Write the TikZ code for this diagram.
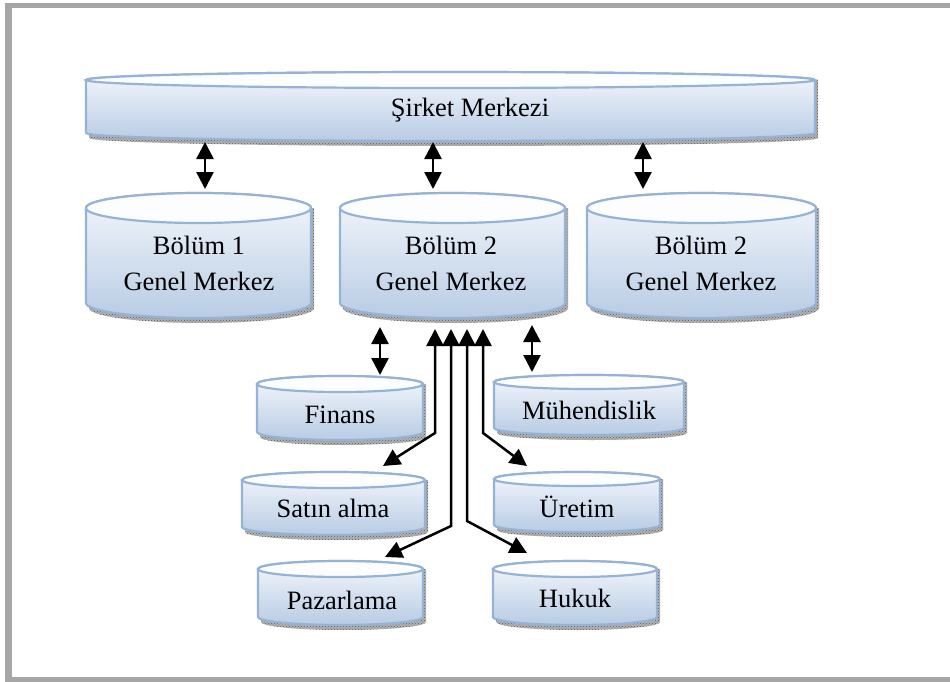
\documentclass[tikz,border=0pt]{standalone}
\usepackage{fontspec}
\setmainfont{Liberation Serif}
\usetikzlibrary{arrows.meta,patterns}

\definecolor{cylline}{RGB}{149,179,215}
\definecolor{cyltop}{RGB}{244,247,252}
\definecolor{cylbot}{RGB}{184,204,228}
\definecolor{lidfill}{RGB}{252,253,255}
\definecolor{framegray}{RGB}{166,166,166}

\tikzset{
  cylbody/.style={draw=cylline, line width=2.2pt, top color=cyltop, bottom color=cylbot, line join=round},
  cyllid/.style={draw=cylline, line width=2.2pt, fill=lidfill},
  cylshadow/.style={preaction={fill=black!30}, pattern=crosshatch dots, pattern color=black!65},
  lbl/.style={font=\fontsize{26.5}{36}\selectfont, align=center, inner sep=0pt},
  link/.style={line width=2.5pt, line join=miter,
    {Triangle[length=17pt,width=17pt]}-{Triangle[length=17pt,width=17pt]}}
}

% #1 name, #2 left x, #3 right x, #4 lid centre y, #5 base centre y,
% #6 ellipse half height, #7/#8 label position, #9 label
\newcommand\cylshape[9]{%
  \pgfmathsetmacro\cylrx{(#3-#2)/2}%
  \pgfmathsetmacro\cylcx{(#3+#2)/2}%
  \fill[cylshadow] (#2+3,#4) -- (#2+3,#5+5)
    arc[start angle=180,end angle=360,x radius=\cylrx pt,y radius=#6pt]
    -- (#3+3,#4) -- cycle;
  \path[cylbody] (#2,#4) -- (#2,#5)
    arc[start angle=180,end angle=360,x radius=\cylrx pt,y radius=#6pt]
    -- (#3,#4)
    arc[start angle=0,end angle=180,x radius=\cylrx pt,y radius=#6pt] -- cycle;
  \draw[cyllid] (\cylcx,#4) ellipse[x radius=\cylrx pt,y radius=#6pt];
  \node[lbl] (#1) at (#7,#8) {#9};
}

\begin{document}
\begin{tikzpicture}[x=1pt,y=-1pt]
  \useasboundingbox (0,0) rectangle (950,682);
  % page frame
  \fill[framegray] (5,3) rectangle (950,682);
  \fill[white] (12,8) rectangle (950,677);

  % head office
  \cylshape{sm}{86}{815}{80}{133}{8}{470}{110}{Şirket Merkezi}

  % division head offices
  \cylshape{b1}{86}{311}{208}{303}{15}{199}{263}{Bölüm 1\\Genel Merkez}
  \cylshape{b2}{340}{565}{208}{303}{15}{451}{263}{Bölüm 2\\Genel Merkez}
  \cylshape{b3}{587}{816}{208}{303}{15}{701}{263}{Bölüm 2\\Genel Merkez}

  % departments
  \cylshape{fin}{257}{423}{384}{432}{8}{340}{415}{Finans}
  \cylshape{sat}{242}{425}{480}{527}{8}{333}{508}{Satın alma}
  \cylshape{paz}{258}{423}{569}{617}{8}{342}{600}{Pazarlama}
  \cylshape{muh}{494}{684}{382}{428}{7}{589}{410}{Mühendislik}
  \cylshape{ure}{494}{660}{479}{525}{7}{577}{507}{Üretim}
  \cylshape{huk}{493}{657}{569}{617}{8}{575}{598}{Hukuk}

  % connector end points
  \coordinate (smA) at (205,142);  \coordinate (b1T) at (205,189);
  \coordinate (smB) at (433,142);  \coordinate (b2T) at (433,189);
  \coordinate (smC) at (643,142);  \coordinate (b3T) at (643,189);

  \coordinate (b2F) at (380,327);  \coordinate (finT) at (380,375);
  \coordinate (b2M) at (532,325);  \coordinate (muhT) at (532,372);

  \coordinate (b2S) at (435,329);  \coordinate (satK) at (435,433);  \coordinate (satT) at (383,466);
  \coordinate (b2P) at (451,329);  \coordinate (pazK) at (451,526);  \coordinate (pazT) at (385,557);
  \coordinate (b2H) at (467,329);  \coordinate (hukK) at (467,521);  \coordinate (hukT) at (527,553);
  \coordinate (b2U) at (483,329);  \coordinate (ureK) at (483,433);  \coordinate (ureT) at (527,466);

  % connectors
  \draw[link] (smA) -- (b1T);
  \draw[link] (smB) -- (b2T);
  \draw[link] (smC) -- (b3T);
  \draw[link] (b2F) -- (finT);
  \draw[link] (b2M) -- (muhT);
  \draw[link] (b2S) -- (satK) -- (satT);
  \draw[link] (b2P) -- (pazK) -- (pazT);
  \draw[link] (b2H) -- (hukK) -- (hukT);
  \draw[link] (b2U) -- (ureK) -- (ureT);
\end{tikzpicture}
\end{document}
